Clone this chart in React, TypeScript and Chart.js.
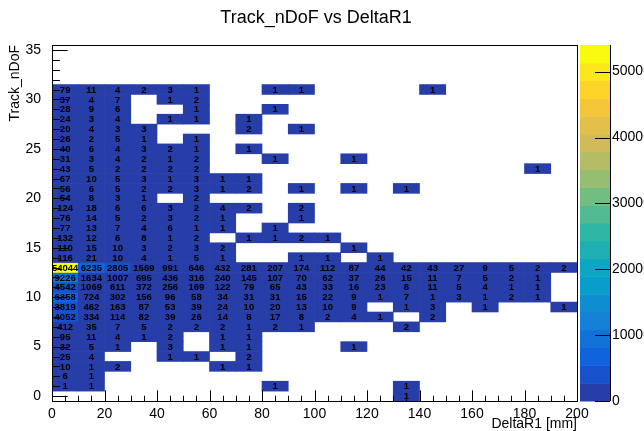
import { useEffect, useRef } from "react";
import { Chart, registerables } from "chart.js";

Chart.register(...registerables);

// ---------- data ----------
const chartTitle = "Track_nDoF vs DeltaR1";
const xCenters = [5, 15, 25, 35, 45, 55, 65, 75, 85, 95, 105, 115, 125, 135, 145, 155, 165, 175, 185, 195];
const xTickValues = [0, 20, 40, 60, 80, 100, 120, 140, 160, 180, 200];
const yTickValues = [0, 5, 10, 15, 20, 25, 30, 35];
const zTickValues = [0, 10000, 20000, 30000, 40000, 50000];

const nDoF_31 = [79, 11, 4, 2, 3, 1, 0, 0, 1, 1, 0, 0, 0, 0, 1, 0, 0, 0, 0, 0];
const nDoF_30 = [37, 4, 7, 0, 1, 2, 0, 0, 0, 0, 0, 0, 0, 0, 0, 0, 0, 0, 0, 0];
const nDoF_29 = [28, 9, 6, 0, 0, 1, 0, 0, 1, 0, 0, 0, 0, 0, 0, 0, 0, 0, 0, 0];
const nDoF_28 = [24, 3, 4, 0, 1, 1, 0, 1, 0, 0, 0, 0, 0, 0, 0, 0, 0, 0, 0, 0];
const nDoF_27 = [20, 4, 3, 3, 0, 0, 0, 2, 0, 1, 0, 0, 0, 0, 0, 0, 0, 0, 0, 0];
const nDoF_26 = [26, 2, 5, 1, 0, 1, 0, 0, 0, 0, 0, 0, 0, 0, 0, 0, 0, 0, 0, 0];
const nDoF_25 = [40, 6, 4, 3, 2, 1, 0, 1, 0, 0, 0, 0, 0, 0, 0, 0, 0, 0, 0, 0];
const nDoF_24 = [31, 3, 4, 2, 1, 2, 0, 0, 1, 0, 0, 1, 0, 0, 0, 0, 0, 0, 0, 0];
const nDoF_23 = [43, 5, 2, 2, 2, 2, 0, 0, 0, 0, 0, 0, 0, 0, 0, 0, 0, 0, 1, 0];
const nDoF_22 = [67, 10, 5, 3, 1, 3, 1, 1, 0, 0, 0, 0, 0, 0, 0, 0, 0, 0, 0, 0];
const nDoF_21 = [56, 6, 5, 2, 2, 3, 1, 2, 0, 1, 0, 1, 0, 1, 0, 0, 0, 0, 0, 0];
const nDoF_20 = [54, 8, 3, 1, 0, 2, 0, 0, 0, 0, 0, 0, 0, 0, 0, 0, 0, 0, 0, 0];
const nDoF_19 = [124, 18, 6, 6, 3, 2, 4, 2, 0, 2, 0, 0, 0, 0, 0, 0, 0, 0, 0, 0];
const nDoF_18 = [76, 14, 5, 2, 3, 2, 1, 0, 0, 1, 0, 0, 0, 0, 0, 0, 0, 0, 0, 0];
const nDoF_17 = [77, 13, 7, 4, 6, 1, 1, 0, 1, 0, 0, 0, 0, 0, 0, 0, 0, 0, 0, 0];
const nDoF_16 = [132, 12, 6, 8, 1, 2, 0, 1, 1, 2, 1, 0, 0, 0, 0, 0, 0, 0, 0, 0];
const nDoF_15 = [110, 15, 10, 3, 2, 3, 2, 0, 0, 0, 0, 1, 0, 0, 0, 0, 0, 0, 0, 0];
const nDoF_14 = [116, 21, 10, 4, 1, 5, 1, 0, 0, 1, 1, 0, 1, 0, 0, 0, 0, 0, 0, 0];
const nDoF_13 = [54044, 6235, 2805, 1569, 991, 646, 432, 281, 207, 174, 112, 87, 44, 42, 43, 27, 9, 5, 2, 2];
const nDoF_12 = [9226, 1634, 1007, 695, 436, 316, 240, 145, 107, 70, 62, 37, 26, 15, 11, 7, 5, 2, 1, 0];
const nDoF_11 = [4542, 1069, 611, 372, 256, 169, 122, 79, 65, 43, 33, 16, 23, 8, 11, 5, 4, 1, 1, 0];
const nDoF_10 = [6358, 724, 302, 156, 96, 58, 34, 31, 31, 15, 22, 9, 1, 7, 1, 3, 1, 2, 1, 0];
const nDoF_9 = [3819, 462, 163, 87, 53, 39, 24, 10, 20, 13, 10, 9, 0, 1, 3, 0, 1, 0, 0, 1];
const nDoF_8 = [4052, 334, 114, 82, 39, 26, 14, 8, 17, 8, 2, 4, 1, 0, 2, 0, 0, 0, 0, 0];
const nDoF_7 = [412, 35, 7, 5, 2, 2, 2, 1, 2, 1, 0, 0, 0, 2, 0, 0, 0, 0, 0, 0];
const nDoF_6 = [95, 11, 4, 1, 2, 0, 1, 1, 0, 0, 0, 0, 0, 0, 0, 0, 0, 0, 0, 0];
const nDoF_5 = [32, 5, 1, 0, 3, 0, 1, 1, 0, 0, 0, 1, 0, 0, 0, 0, 0, 0, 0, 0];
const nDoF_4 = [25, 4, 0, 0, 1, 1, 0, 2, 0, 0, 0, 0, 0, 0, 0, 0, 0, 0, 0, 0];
const nDoF_3 = [10, 1, 2, 0, 0, 0, 1, 1, 0, 0, 0, 0, 0, 0, 0, 0, 0, 0, 0, 0];
const nDoF_2 = [6, 1, 0, 0, 0, 0, 0, 0, 0, 0, 0, 0, 0, 0, 0, 0, 0, 0, 0, 0];
const nDoF_1 = [1, 1, 0, 0, 0, 0, 0, 0, 1, 0, 0, 0, 0, 1, 0, 0, 0, 0, 0, 0];
const nDoF_0 = [0, 0, 0, 0, 0, 0, 0, 0, 0, 0, 0, 0, 0, 1, 0, 0, 0, 0, 0, 0];

const zMax = 54044;
const nLevels = 20;

// palette (ROOT kBird)
const birdR = [0.2082, 0.0592, 0.078, 0.0232, 0.1802, 0.5301, 0.8186, 0.9956, 0.9764];
const birdG = [0.1664, 0.3599, 0.5041, 0.6419, 0.7178, 0.7492, 0.7328, 0.7862, 0.9832];
const birdB = [0.5293, 0.8684, 0.8385, 0.7914, 0.6425, 0.4662, 0.3499, 0.1968, 0.0539];

const rows = [
  nDoF_0, nDoF_1, nDoF_2, nDoF_3, nDoF_4, nDoF_5, nDoF_6, nDoF_7, nDoF_8, nDoF_9,
  nDoF_10, nDoF_11, nDoF_12, nDoF_13, nDoF_14, nDoF_15, nDoF_16, nDoF_17, nDoF_18, nDoF_19,
  nDoF_20, nDoF_21, nDoF_22, nDoF_23, nDoF_24, nDoF_25, nDoF_26, nDoF_27, nDoF_28, nDoF_29,
  nDoF_30, nDoF_31,
];

function bird(pos: number) {
  const s = Math.max(0, Math.min(1, pos)) * 8;
  const k = Math.min(7, Math.floor(s));
  const t = s - k;
  const c = (a: number[]) => Math.round(255 * (a[k] + (a[k + 1] - a[k]) * t));
  return `rgb(${c(birdR)},${c(birdG)},${c(birdB)})`;
}
function levelColor(level: number) {
  const idx = Math.floor(((level + 0.99) * 255) / nLevels);
  return bird(idx / 254);
}
function valueColor(v: number) {
  const lvl = Math.min(nLevels - 1, Math.floor((v / zMax) * nLevels + 0.01));
  return levelColor(lvl);
}

type Cell = { x: number; y: [number, number]; v: number };
const cells: Cell[] = [];
rows.forEach((row, yi) => {
  row.forEach((v, xi) => {
    if (v > 0) cells.push({ x: xCenters[xi], y: [yi - 0.5, yi + 0.5], v });
  });
});

const FONT = "'Liberation Sans', Arial, Helvetica, sans-serif";

const rootPlugin = {
  id: "rootDecor",
  afterDatasetsDraw(chart: any) {
    const ctx = chart.ctx as CanvasRenderingContext2D;
    const area = chart.chartArea;
    const xs = chart.scales.x;
    const ys = chart.scales.y;
    const zs = chart.scales.z;
    const meta = chart.getDatasetMeta(0);

    // cell texts
    ctx.save();
    ctx.font = `bold 9.5px ${FONT}`;
    ctx.textAlign = "center";
    ctx.textBaseline = "middle";
    ctx.fillStyle = "#000";
    meta.data.forEach((el: any, i: number) => {
      const c = el.getCenterPoint();
      ctx.fillText(String(cells[i].v), c.x, c.y + 0.5);
    });
    ctx.restore();

    // tick marks inside frame
    ctx.save();
    ctx.strokeStyle = "#000";
    ctx.lineWidth = 1;
    ctx.beginPath();
    for (let v = 0; v <= 200; v += 5) {
      const px = Math.round(xs.getPixelForValue(v)) + 0.5;
      const len = v % 20 === 0 ? 10.7 : 5.3;
      ctx.moveTo(px, area.bottom);
      ctx.lineTo(px, area.bottom - len);
    }
    for (let v = 0; v <= 35; v += 1) {
      const py = Math.round(ys.getPixelForValue(v)) + 0.5;
      const len = v % 5 === 0 ? 15.7 : 7.9;
      ctx.moveTo(area.left, py);
      ctx.lineTo(area.left + len, py);
    }
    ctx.stroke();
    // frame
    ctx.strokeRect(Math.round(area.left) + 0.5, Math.round(area.top) + 0.5, Math.round(area.right - area.left), Math.round(area.bottom - area.top));
    ctx.restore();

    // colour bar
    ctx.save();
    const bx0 = area.right + 3;
    const bx1 = area.right + 33;
    const dz = zMax / nLevels;
    for (let i = 0; i < nLevels; i++) {
      const p0 = zs.getPixelForValue(i * dz);
      const p1 = zs.getPixelForValue((i + 1) * dz);
      ctx.fillStyle = levelColor(i);
      ctx.fillRect(bx0, p1, bx1 - bx0, p0 - p1 + 0.5);
    }
    ctx.strokeStyle = "#000";
    ctx.lineWidth = 1;
    ctx.beginPath();
    ctx.moveTo(bx1 + 0.5, zs.getPixelForValue(0));
    ctx.lineTo(bx1 + 0.5, zs.getPixelForValue(zMax));
    zTickValues.forEach((v) => {
      const py = Math.round(zs.getPixelForValue(v)) + 0.5;
      ctx.moveTo(bx1, py);
      ctx.lineTo(bx1 - 15, py);
    });
    ctx.stroke();
    ctx.restore();

    // title
    ctx.save();
    ctx.font = `18px ${FONT}`;
    ctx.fillStyle = "#000";
    ctx.textAlign = "center";
    ctx.textBaseline = "middle";
    ctx.fillText(chartTitle, 316, 18);
    ctx.restore();
  },
};

const setTicks = (vals: number[]) => (s: any) => {
  s.ticks = vals.map((value) => ({ value }));
};

export default function App() {
  const ref = useRef<HTMLCanvasElement | null>(null);
  useEffect(() => {
    if (!ref.current) return;
    Chart.defaults.font.family = FONT;
    Chart.defaults.color = "#000";
    const chart = new Chart(ref.current, {
      type: "bar",
      data: {
        datasets: [
          {
            data: cells as any,
            backgroundColor: (c: any) => (c.raw ? valueColor(c.raw.v) : "#000"),
            borderWidth: 0,
            categoryPercentage: 1,
            barPercentage: 1,
          } as any,
        ],
      },
      options: {
        responsive: false,
        animation: false,
        layout: { padding: { left: 0, right: 0, top: 45, bottom: 0 } },
        plugins: {
          legend: { display: false },
          tooltip: { enabled: false },
          title: { display: false },
        },
        scales: {
          x: {
            type: "linear",
            min: 0,
            max: 200,
            offset: false,
            grid: { display: false },
            border: { display: false },
            afterBuildTicks: setTicks(xTickValues),
            ticks: { padding: -3, font: { size: 14 }, color: "#000", maxRotation: 0, autoSkip: false, callback: (v: any) => String(v) },
            title: { display: true, text: "DeltaR1 [mm]", align: "end", font: { size: 14, lineHeight: 1 }, color: "#000", padding: { top: 0, bottom: 0 } },
            afterFit: (s: any) => { s.height = 30; },
          },
          y: {
            type: "linear",
            min: -0.5,
            max: 35.5,
            grid: { display: false },
            border: { display: false },
            afterBuildTicks: setTicks(yTickValues),
            ticks: { padding: 3, font: { size: 14 }, color: "#000", autoSkip: false, callback: (v: any) => String(v) },
            title: { display: true, text: "Track_nDoF", align: "end", font: { size: 14, lineHeight: 1 }, color: "#000", padding: { top: 8, bottom: 0 } },
            afterFit: (s: any) => { s.width = 52; },
          },
          z: {
            type: "linear",
            position: "right",
            min: 0,
            max: zMax,
            grid: { display: true, drawOnChartArea: false, drawTicks: true, tickLength: 35, color: "rgba(0,0,0,0)", tickColor: "rgba(0,0,0,0)" },
            border: { display: false },
            afterBuildTicks: setTicks(zTickValues),
            ticks: { padding: 0, font: { size: 14 }, color: "#000", autoSkip: false, callback: (v: any) => String(v) },
            afterFit: (s: any) => { s.width = 67; },
          },
        },
      } as any,
      plugins: [rootPlugin],
    });
    return () => chart.destroy();
  }, []);
  return (
    <div style={{ position: "fixed", left: 0, top: 0, width: 644, height: 431, background: "#fff" }}>
      <canvas ref={ref} width={644} height={431} style={{ width: 644, height: 431, display: "block" }} />
    </div>
  );
}
